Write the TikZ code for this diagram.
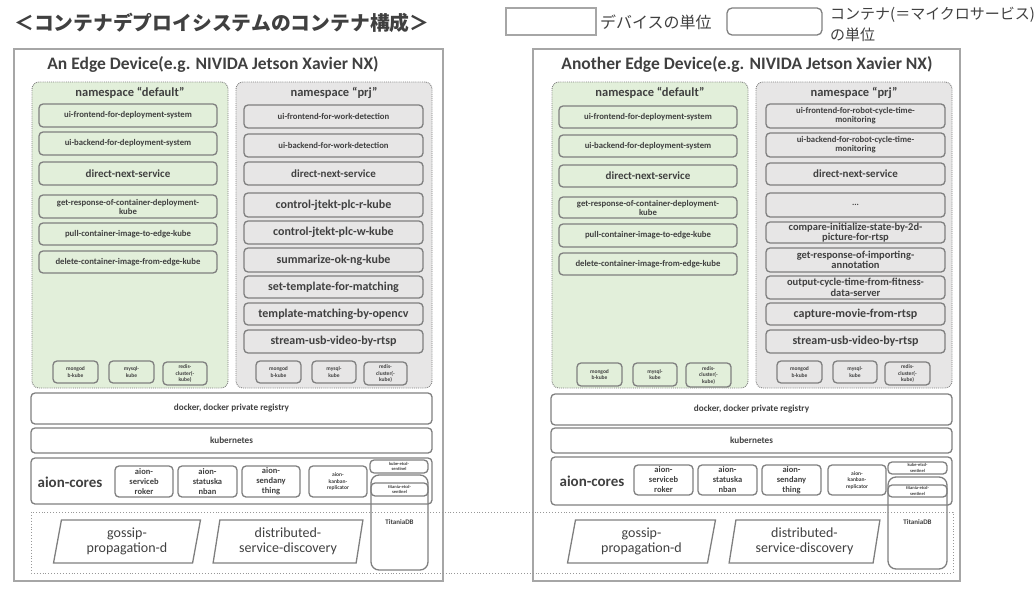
\documentclass[tikz,border=0pt]{standalone}
\usepackage{fontspec}
\setmainfont{Carlito}
\newfontfamily\jp{Noto Sans CJK JP}
\usetikzlibrary{shapes.geometric}
\definecolor{devgray}{HTML}{A6A6A6}
\definecolor{boxgray}{HTML}{7F7F7F}
\definecolor{nsgreen}{HTML}{E2EFDA}
\definecolor{nsgrey}{HTML}{E7E6E6}
\definecolor{txt}{HTML}{404040}

\begin{document}
\begin{tikzpicture}[x=1pt,y=-1pt,
    dev/.style={draw=devgray,line width=1.4pt,anchor=north west,inner sep=0pt,outer sep=0pt},
    ns/.style={draw=boxgray,densely dotted,line width=0.9pt,rounded corners=7pt,anchor=north west,inner sep=0pt,outer sep=0pt},
    ctr/.style={draw=boxgray,line width=1.3pt,rounded corners=4pt,anchor=north west,inner sep=0pt,outer sep=0pt,
        align=center,text=txt,font=\bfseries\fontsize{8.7}{9}\selectfont},
    sz/.style 2 args={minimum width=#1,minimum height=#2},
    mid/.style={font=\bfseries\fontsize{11}{11.5}\selectfont},
    big/.style={font=\bfseries\fontsize{12}{12.5}\selectfont},
    two/.style={font=\bfseries\fontsize{10.5}{10.5}\selectfont},
    db/.style={font=\bfseries\fontsize{5.5}{6.5}\selectfont},
    wee/.style={font=\bfseries\fontsize{4.5}{5.5}\selectfont},
    lbl/.style={text=txt,inner sep=0pt},
    para/.style={draw=boxgray,line width=1.3pt,trapezium,trapezium left angle=80,trapezium right angle=100,
        trapezium stretches=true,inner sep=0pt,text=txt,align=center,font=\fontsize{14}{15.5}\selectfont}
    ]
\useasboundingbox (0,0) rectangle (1036,594);

% title and legend
\node[lbl,anchor=west,font=\jp\bfseries\fontsize{19.8}{22}\selectfont] (ttl) at (14,23) {＜コンテナデプロイシステムのコンテナ構成＞};
\node[dev,sz={90}{27}] (lgdev) at (506,8) {};
\node[lbl,anchor=west,font=\jp\fontsize{16}{18}\selectfont] (lgdevt) at (600,22) {デバイスの単位};
\node[ctr,sz={95}{27},rounded corners=5pt] (lgctr) at (727,8) {};
\node[lbl,anchor=north west,align=left,font=\jp\fontsize{15}{21}\selectfont] (lgctrt) at (830,7) {コンテナ(＝マイクロサービス)\\の単位};

%%%%%% left device
\node[dev,sz={429}{532}] (ldev) at (14,49) {};
\node[lbl,font=\bfseries\fontsize{17.5}{18}\selectfont] (ldevt) at (213,64) {An Edge Device(e.g. NIVIDA Jetson Xavier NX)};
\node[ns,fill=nsgreen,sz={196}{306}] (lnsd) at (32,82) {};
\node[ns,fill=nsgrey,sz={196}{306}] (lnsp) at (236,82) {};
\node[lbl,font=\bfseries\fontsize{12.5}{13}\selectfont] (lnsdt) at (130,93) {namespace “default”};
\node[lbl,font=\bfseries\fontsize{12.5}{13}\selectfont] (lnspt) at (334,93) {namespace “prj”};

\node[ctr,sz={178}{23}] (ld1) at (39,104) {ui-frontend-for-deployment-system};
\node[ctr,sz={178}{23}] (ld2) at (39,132) {ui-backend-for-deployment-system};
\node[ctr,mid,sz={178}{23}] (ld3) at (39,162) {direct-next-service};
\node[ctr,sz={178}{23}] (ld4) at (39,195) {get-response-of-container-deployment-\\kube};
\node[ctr,sz={178}{22}] (ld5) at (39,223) {pull-container-image-to-edge-kube};
\node[ctr,sz={178}{22}] (ld6) at (39,251) {delete-container-image-from-edge-kube};
\node[ctr,db,sz={45}{22}] (ldm) at (53,361) {mongod\\b-kube};
\node[ctr,db,sz={45}{22}] (ldy) at (109,361) {mysql-\\kube};
\node[ctr,db,sz={44}{23}] (ldr) at (163,362) {redis-\\cluster(-\\kube)};

\node[ctr,sz={179}{23}] (lp1) at (244,105) {ui-frontend-for-work-detection};
\node[ctr,sz={179}{23}] (lp2) at (244,134) {ui-backend-for-work-detection};
\node[ctr,mid,sz={179}{23}] (lp3) at (244,162) {direct-next-service};
\node[ctr,big,sz={179}{24}] (lp4) at (244,193) {control-jtekt-plc-r-kube};
\node[ctr,big,sz={179}{23}] (lp5) at (244,221) {control-jtekt-plc-w-kube};
\node[ctr,big,sz={179}{24}] (lp6) at (244,248) {summarize-ok-ng-kube};
\node[ctr,big,sz={179}{22}] (lp7) at (244,276) {set-template-for-matching};
\node[ctr,big,sz={179}{22}] (lp8) at (244,303) {template-matching-by-opencv};
\node[ctr,big,sz={179}{23}] (lp9) at (244,330) {stream-usb-video-by-rtsp};
\node[ctr,db,sz={45}{22}] (lpm) at (256,361) {mongod\\b-kube};
\node[ctr,db,sz={44}{22}] (lpy) at (312,361) {mysql-\\kube};
\node[ctr,db,sz={43}{23}] (lpr) at (364,362) {redis-\\cluster(-\\kube)};

\node[ctr,font=\bfseries\fontsize{9.2}{10}\selectfont,sz={401}{31}] (ldock) at (31,393) {docker, docker private registry};
\node[ctr,font=\bfseries\fontsize{9.2}{10}\selectfont,sz={401}{25}] (lkube) at (31,428) {kubernetes};
\node[ctr,sz={401}{46}] (laion) at (31,458) {};
\node[lbl,font=\bfseries\fontsize{15}{16}\selectfont] (laiont) at (70,482) {aion-cores};
\node[ctr,font=\bfseries\fontsize{8.5}{10}\selectfont,sz={58}{31}] (la1) at (115,466) {aion-\\serviceb\\roker};
\node[ctr,font=\bfseries\fontsize{8.5}{10}\selectfont,sz={59}{31}] (la2) at (178,466) {aion-\\statuska\\nban};
\node[ctr,font=\bfseries\fontsize{8.5}{10}\selectfont,sz={58}{31}] (la3) at (242,466) {aion-\\sendany\\thing};
\node[ctr,db,sz={58}{31}] (la4) at (309,466) {aion-\\kanban-\\replicator};
\node[ctr,wee,sz={58}{13}] (lke) at (370,460) {kube-etcd-\\sentinel};
\node[ctr,rounded corners=8pt,sz={57}{95}] (ltdb) at (371,475) {};
\node[lbl,font=\bfseries\fontsize{7}{8}\selectfont] (ltdbt) at ([yshift=-47pt]ltdb.north) {TitaniaDB};
\node[ctr,wee,sz={57}{13}] (lte) at (371,483) {titania-etcd-\\sentinel};
\node[para,minimum width=148,minimum height=43] (lgos) at (127,541.5) {gossip-\\propagation-d};
\node[para,minimum width=150,minimum height=43] (ldsd) at (288,541.5) {distributed-\\service-discovery};

%%%%%% right device
\node[dev,sz={427}{532}] (rdev) at (533,49) {};
\node[lbl,font=\bfseries\fontsize{17.5}{18}\selectfont] (rdevt) at (747,64) {Another Edge Device(e.g. NIVIDA Jetson Xavier NX)};
\node[ns,fill=nsgreen,sz={196}{306}] (rnsd) at (552,82) {};
\node[ns,fill=nsgrey,sz={196}{306}] (rnsp) at (756,82) {};
\node[lbl,font=\bfseries\fontsize{12.5}{13}\selectfont] (rnsdt) at (650,93) {namespace “default”};
\node[lbl,font=\bfseries\fontsize{12.5}{13}\selectfont] (rnspt) at (854,93) {namespace “prj”};

\node[ctr,sz={178}{22}] (rd1) at (559,106) {ui-frontend-for-deployment-system};
\node[ctr,sz={178}{22}] (rd2) at (559,135) {ui-backend-for-deployment-system};
\node[ctr,mid,sz={178}{22}] (rd3) at (559,165) {direct-next-service};
\node[ctr,sz={178}{21}] (rd4) at (559,197) {get-response-of-container-deployment-\\kube};
\node[ctr,sz={178}{23}] (rd5) at (559,224) {pull-container-image-to-edge-kube};
\node[ctr,sz={178}{22}] (rd6) at (559,253) {delete-container-image-from-edge-kube};
\node[ctr,db,sz={45}{23}] (rdm) at (577,363) {mongod\\b-kube};
\node[ctr,db,sz={44}{23}] (rdy) at (633,363) {mysql-\\kube};
\node[ctr,db,sz={45}{24}] (rdr) at (686,363) {redis-\\cluster(-\\kube)};

\node[ctr,sz={179}{24}] (rp1) at (766,104) {ui-frontend-for-robot-cycle-time-\\monitoring};
\node[ctr,sz={179}{24}] (rp2) at (766,133) {ui-backend-for-robot-cycle-time-\\monitoring};
\node[ctr,mid,sz={179}{22}] (rp3) at (766,163) {direct-next-service};
\node[ctr,sz={179}{24}] (rp4) at (766,193) {...};
\node[ctr,two,sz={179}{21}] (rp5) at (766,222) {compare-initialize-state-by-2d-\\picture-for-rtsp};
\node[ctr,two,sz={179}{24}] (rp6) at (766,248) {get-response-of-importing-\\annotation};
\node[ctr,two,sz={179}{23}] (rp7) at (766,276) {output-cycle-time-from-fitness-\\data-server};
\node[ctr,big,sz={179}{22}] (rp8) at (766,303) {capture-movie-from-rtsp};
\node[ctr,big,sz={179}{23}] (rp9) at (766,330) {stream-usb-video-by-rtsp};
\node[ctr,db,sz={45}{22}] (rpm) at (777,361) {mongod\\b-kube};
\node[ctr,db,sz={44}{22}] (rpy) at (833,361) {mysql-\\kube};
\node[ctr,db,sz={45}{23}] (rpr) at (885,362) {redis-\\cluster(-\\kube)};

\node[ctr,font=\bfseries\fontsize{9.2}{10}\selectfont,sz={401}{31}] (rdock) at (551,394) {docker, docker private registry};
\node[ctr,font=\bfseries\fontsize{9.2}{10}\selectfont,sz={401}{25}] (rkube) at (551,428) {kubernetes};
\node[ctr,sz={401}{48}] (raion) at (551,457) {};
\node[lbl,font=\bfseries\fontsize{15}{16}\selectfont] (raiont) at (592,481) {aion-cores};
\node[ctr,font=\bfseries\fontsize{8.5}{10}\selectfont,sz={59}{30}] (ra1) at (634,465) {aion-\\serviceb\\roker};
\node[ctr,font=\bfseries\fontsize{8.5}{10}\selectfont,sz={59}{30}] (ra2) at (698,465) {aion-\\statuska\\nban};
\node[ctr,font=\bfseries\fontsize{8.5}{10}\selectfont,sz={59}{30}] (ra3) at (762,465) {aion-\\sendany\\thing};
\node[ctr,db,sz={58}{30}] (ra4) at (828,465) {aion-\\kanban-\\replicator};
\node[ctr,wee,sz={59}{12}] (rke) at (888,462) {kube-etcd-\\sentinel};
\node[ctr,rounded corners=8pt,sz={59}{92}] (rtdb) at (888,477) {};
\node[lbl,font=\bfseries\fontsize{7}{8}\selectfont] (rtdbt) at ([yshift=-45pt]rtdb.north) {TitaniaDB};
\node[ctr,wee,sz={59}{12}] (rte) at (888,485) {titania-etcd-\\sentinel};
\node[para,minimum width=149,minimum height=43] (rgos) at (641.5,541.5) {gossip-\\propagation-d};
\node[para,minimum width=151,minimum height=43] (rdsd) at (804.5,541.5) {distributed-\\service-discovery};

% band across both devices
\draw[boxgray!80,dotted,line width=0.9pt] (31,512) rectangle (953,573);
\end{tikzpicture}
\end{document}
